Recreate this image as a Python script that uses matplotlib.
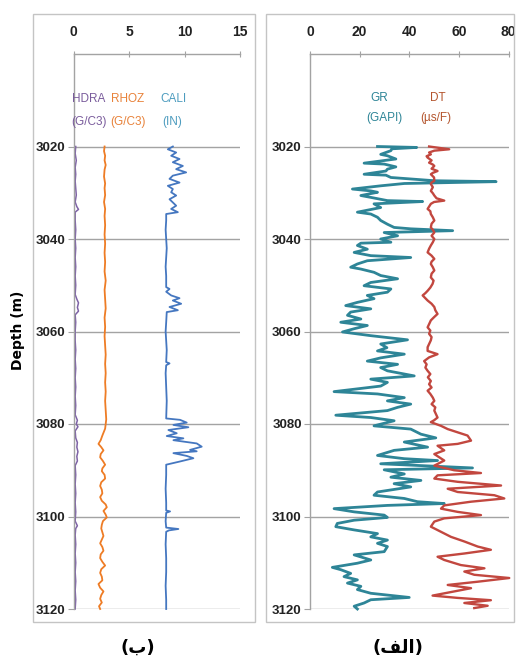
import matplotlib
matplotlib.use("Agg")
import matplotlib.pyplot as plt
from matplotlib.patches import Rectangle
from matplotlib import font_manager

avail = {f.name for f in font_manager.fontManager.ttflist}
NARROW = ['Liberation Sans Narrow', 'Liberation Sans', 'DejaVu Sans']
NARROW = [f for f in NARROW if f in avail] + ['DejaVu Sans']
plt.rcParams['font.family'] = NARROW

# ---------------- data ----------------
depth_ticks = [3020, 3040, 3060, 3080, 3100, 3120]
left_xticks = [0, 5, 10, 15]
right_xticks = [0, 20, 40, 60, 80]

hdra_depth = [3020, 3021.5, 3023, 3024.5, 3026, 3027.5, 3029, 3030.5, 3032, 3033, 3033.6, 3034.2,
              3036, 3038, 3040, 3042, 3044, 3046, 3048, 3050, 3052, 3053, 3053.8, 3054.8, 3055.6,
              3056.4, 3058, 3060, 3062, 3064, 3066, 3068, 3070, 3072, 3074, 3076, 3078, 3079.2,
              3080, 3080.6, 3081.5, 3083, 3084, 3085, 3086, 3087, 3088, 3089, 3091, 3093, 3095,
              3097, 3099, 3101, 3102, 3102.6, 3104, 3106, 3108, 3110, 3112, 3114, 3116, 3118, 3120]
hdra_val = [0.2, 0.15, 0.25, 0.15, 0.2, 0.15, 0.2, 0.25, 0.15, 0.3, 0.45, 0.15,
            0.15, 0.2, 0.15, 0.2, 0.15, 0.2, 0.15, 0.2, 0.15, 0.3, 0.45, 0.35, 0.45,
            0.15, 0.2, 0.15, 0.15, 0.2, 0.15, 0.2, 0.15, 0.2, 0.15, 0.2, 0.15, 0.35,
            0.25, 0.4, 0.15, 0.2, 0.35, 0.3, 0.4, 0.3, 0.35, 0.15, 0.2, 0.15, 0.2,
            0.15, 0.2, 0.15, 0.35, 0.2, 0.15, 0.2, 0.15, 0.2, 0.15, 0.2, 0.15, 0.2, 0.15]

rhoz_depth = [3020, 3021, 3022, 3023, 3024, 3025, 3026.5, 3028, 3029, 3030.5, 3032, 3033.5, 3035,
              3037, 3039, 3041, 3043, 3045, 3047, 3049, 3051, 3053, 3055, 3057, 3059, 3061, 3063,
              3065, 3067, 3069, 3071, 3073, 3075, 3077, 3079, 3081, 3082.5, 3083.5, 3084.3, 3085,
              3085.7, 3086.5, 3087.2, 3088, 3088.8, 3089.6, 3090.2, 3091, 3091.8, 3092.6, 3093.4,
              3094.2, 3095, 3095.8, 3096.6, 3097.4, 3098, 3098.8, 3099.6, 3100.2, 3101, 3101.8,
              3102.6, 3103.4, 3104.2, 3105, 3105.8, 3106.6, 3107.4, 3108.2, 3109, 3109.8, 3110.6,
              3111.4, 3112.2, 3113, 3113.8, 3114.6, 3115.4, 3116.2, 3117, 3117.8, 3118.6, 3119.4, 3120]
rhoz_val = [2.8, 2.75, 2.85, 2.8, 2.9, 2.8, 2.75, 2.85, 2.8, 2.85, 2.75, 2.85, 2.8,
            2.85, 2.8, 2.85, 2.8, 2.85, 2.8, 2.9, 2.8, 2.85, 2.9, 2.8, 2.85, 2.8, 2.85,
            2.9, 2.85, 2.9, 2.85, 2.9, 2.85, 2.9, 2.95, 2.85, 2.6, 2.45, 2.25, 2.5,
            2.7, 2.45, 2.4, 2.65, 2.85, 2.6, 2.55, 2.8, 2.85, 2.5, 2.4,
            2.55, 2.6, 2.4, 2.55, 2.9, 3.0, 2.7, 2.9, 3.0, 2.65, 2.55,
            2.5, 2.6, 2.7, 2.55, 2.4, 2.6, 2.7, 2.45, 2.4, 2.6, 2.85,
            2.5, 2.4, 2.55, 2.6, 2.25, 2.4, 2.7, 2.5, 2.4, 2.55, 2.3, 2.4]

cali_depth = [3020.0, 3020.6, 3021.3, 3022.0, 3022.7, 3023.4, 3024.2, 3024.9, 3025.6, 3026.3, 3027.0,
              3027.8, 3028.5, 3029.2, 3029.9, 3030.6, 3031.4, 3032.1, 3032.8, 3033.5, 3034.2, 3034.6,
              3036, 3038, 3040, 3042, 3044, 3046, 3048, 3050.4, 3050.8, 3051.4, 3052.2, 3052.8,
              3053.3, 3054.0, 3054.7, 3055.4, 3055.8, 3058, 3060, 3062, 3064, 3066.6, 3066.9,
              3067.3, 3069, 3072, 3075, 3078.8, 3079.1, 3079.7, 3080.2, 3080.7, 3081.3, 3082.0,
              3082.6, 3083.1, 3083.5, 3084.2, 3084.9, 3085.6, 3085.9, 3086.3, 3086.9, 3087.4,
              3088.1, 3088.8, 3091, 3094, 3097, 3098.7, 3098.9, 3099.2, 3101, 3102.4, 3102.7,
              3103.0, 3103.3, 3106, 3109, 3112, 3115, 3118, 3120]
cali_val = [8.95, 8.5, 9.25, 8.8, 9.55, 8.95, 9.85, 9.25, 10.15, 8.95, 8.65,
            9.55, 8.5, 8.95, 8.8, 9.25, 8.65, 8.95, 9.25, 8.8, 9.4, 8.35,
            8.35, 8.3, 8.35, 8.4, 8.35, 8.3, 8.35, 8.35, 8.65, 8.35, 8.8, 9.55,
            8.95, 9.7, 8.65, 9.4, 8.4, 8.35, 8.3, 8.35, 8.4, 8.35, 8.65,
            8.35, 8.3, 8.35, 8.4, 8.35, 9.6, 10.2, 9.0, 10.35, 8.55, 9.3,
            8.4, 9.9, 9.0, 11.1, 11.55, 10.5, 11.1, 9.0, 10.2, 10.8,
            9.6, 8.35, 8.35, 8.3, 8.35, 8.35, 8.7, 8.35, 8.3, 8.35, 9.45,
            8.6, 8.35, 8.3, 8.35, 8.35, 8.3, 8.35, 8.35]

gr_depth = [3020.0, 3020.2, 3020.5, 3020.9, 3021.7, 3022.0, 3022.7, 3023.6, 3023.8, 3024.4, 3024.9,
            3025.3, 3026.0, 3026.2, 3026.7, 3027.4, 3027.6, 3028.0, 3028.5, 3029.2, 3029.6, 3029.9,
            3030.6, 3031.0, 3031.7, 3031.9, 3032.4, 3033.2, 3034.2, 3034.6, 3035.3, 3036.0, 3036.8,
            3037.5, 3037.8, 3038.2, 3038.6, 3039.3, 3040.0, 3040.7, 3040.9, 3041.4, 3042.2, 3042.9,
            3043.6, 3044.0, 3044.7, 3045.4, 3046.1, 3046.5, 3047.2, 3047.9, 3048.6, 3049.4, 3050.1,
            3050.8, 3051.5, 3052.2, 3052.9, 3053.7, 3054.4, 3055.1, 3055.8, 3056.5, 3057.3, 3058.0,
            3058.7, 3059.4, 3060.1, 3060.9, 3061.8, 3062.7, 3063.5, 3064.2, 3064.9, 3065.7, 3066.4,
            3067.1, 3067.8, 3068.5, 3069.6, 3070.3, 3071.0, 3071.8, 3073.0, 3073.5, 3074.3, 3075.0,
            3075.7, 3076.4, 3077.1, 3078.1, 3078.6, 3079.3, 3080.4, 3081.1, 3082.2, 3083.0, 3083.9,
            3085.0, 3085.7, 3086.8, 3087.5, 3087.9, 3088.6, 3089.5, 3089.9, 3090.8, 3091.5, 3092.2,
            3092.9, 3093.6, 3094.7, 3095.4, 3096.1, 3096.8, 3097.2, 3097.6, 3098.3, 3099.0, 3099.7,
            3100.2, 3100.8, 3101.5, 3102.2, 3102.9, 3103.7, 3104.4, 3105.1, 3105.8, 3106.5, 3107.6,
            3108.3, 3109.4, 3110.1, 3111.0, 3111.5, 3112.3, 3113.0, 3113.7, 3114.4, 3115.1, 3115.8,
            3116.6, 3117.5, 3118.0, 3118.7, 3119.4, 3120.0]
gr_val = [27.2, 43.0, 33.0, 32.6, 28.5, 31.2, 34.6, 21.8, 29.9, 34.6, 31.2,
          30.6, 21.8, 30.6, 32.6, 50.1, 75.0, 38.0, 28.5, 17.1, 24.5, 27.2,
          20.5, 24.5, 31.2, 45.4, 25.8, 28.5, 19.1, 24.5, 27.2, 28.5, 31.2,
          33.9, 40.6, 57.5, 29.9, 35.3, 28.5, 32.6, 20.5, 19.1, 23.1, 17.8,
          24.5, 40.6, 23.1, 19.1, 16.4, 20.5, 25.8, 28.5, 35.3, 24.5, 21.8,
          32.6, 31.2, 23.1, 25.8, 19.1, 14.4, 24.5, 16.4, 15.1, 20.5, 12.4,
          23.1, 17.8, 13.1, 24.5, 39.3, 28.5, 31.0, 27.2, 38.0, 28.5, 23.1,
          35.3, 28.5, 31.2, 42.0, 24.5, 31.2, 28.5, 9.7, 27.2, 38.0, 31.2,
          40.6, 35.3, 31.2, 10.4, 24.5, 33.9, 25.8, 40.6, 44.7, 50.7, 38.0,
          47.4, 33.9, 27.2, 38.0, 51.4, 28.5, 65.5, 29.9, 38.0, 32.6, 44.7,
          33.9, 40.6, 27.2, 25.8, 38.0, 43.3, 54.1, 31.2, 9.7, 17.8, 29.9,
          31.2, 17.8, 11.0, 10.4, 17.8, 27.2, 24.5, 31.2, 27.2, 31.2, 29.9,
          17.8, 24.5, 19.1, 9.0, 12.4, 16.4, 13.7, 19.1, 15.1, 20.5, 19.1,
          24.5, 40.0, 24.5, 21.8, 17.8, 19.1]

dt_depth = [3020.0, 3020.3, 3020.6, 3020.9, 3021.3, 3021.7, 3022.1, 3022.4, 3023.0, 3023.5, 3023.9,
            3024.2, 3024.8, 3025.3, 3025.7, 3026.0, 3026.7, 3027.4, 3027.8, 3028.1, 3028.8, 3029.6,
            3030.1, 3030.6, 3031.2, 3031.7, 3032.0, 3032.4, 3033.0, 3033.5, 3034.0, 3034.6, 3035.3,
            3036.0, 3036.7, 3037.5, 3038.0, 3038.6, 3039.3, 3040.0, 3040.7, 3041.4, 3042.1, 3042.9,
            3043.6, 3044.3, 3044.9, 3045.4, 3046.1, 3046.8, 3047.5, 3048.3, 3049.0, 3049.7, 3050.5,
            3051.2, 3051.7, 3052.2, 3052.8, 3053.3, 3054.0, 3054.7, 3055.4, 3056.2, 3056.9, 3057.6,
            3058.4, 3059.1, 3059.8, 3060.5, 3061.2, 3061.9, 3062.7, 3063.4, 3064.2, 3064.9, 3065.6,
            3066.4, 3067.1, 3067.8, 3068.5, 3069.2, 3069.9, 3070.7, 3071.4, 3072.1, 3072.8, 3073.5,
            3074.3, 3075.0, 3075.7, 3076.4, 3077.1, 3077.9, 3078.6, 3079.2, 3079.6, 3080.4, 3081.1,
            3081.8, 3082.5, 3083.6, 3084.3, 3084.7, 3085.7, 3086.5, 3087.9, 3089.0, 3090.0, 3090.6,
            3091.1, 3091.8, 3092.5, 3093.3, 3094.0, 3094.7, 3095.4, 3096.1, 3096.8, 3097.6, 3098.3,
            3099.0, 3099.7, 3100.4, 3101.1, 3102.2, 3103.3, 3104.4, 3105.4, 3106.5, 3107.2, 3108.0,
            3108.7, 3109.4, 3110.5, 3111.2, 3111.9, 3112.6, 3113.3, 3114.1, 3114.8, 3115.5, 3116.2,
            3117.1, 3117.6, 3118.1, 3118.7, 3119.3, 3119.8]
dt_val = [48.0, 52.0, 56.1, 50.1, 48.0, 48.7, 47.0, 47.4, 49.0, 48.0, 49.5,
          50.1, 49.0, 51.4, 49.5, 48.7, 50.0, 50.1, 49.0, 48.7, 49.5, 48.7,
          49.5, 50.1, 51.0, 54.1, 50.0, 48.7, 48.0, 47.4, 48.5, 48.7, 49.5,
          50.1, 49.0, 48.7, 49.5, 50.1, 49.0, 50.1, 49.5, 48.7, 48.0, 47.4,
          49.0, 50.1, 49.0, 48.7, 49.5, 50.1, 49.0, 48.7, 49.8, 49.4, 48.5,
          47.4, 46.5, 45.4, 46.5, 47.4, 49.0, 50.1, 50.5, 51.4, 50.0, 48.7,
          48.0, 47.4, 48.5, 48.0, 49.0, 48.7, 48.0, 47.4, 47.4, 51.4, 48.0,
          46.0, 47.0, 46.5, 47.4, 48.5, 47.5, 48.7, 48.0, 49.0, 47.4, 48.5,
          49.5, 50.1, 49.0, 50.5, 50.1, 50.8, 51.4, 50.0, 48.7, 52.8, 55.5,
          59.5, 63.5, 64.9, 59.5, 51.4, 54.1, 50.1, 54.1, 50.1, 58.1, 68.9,
          51.4, 50.1, 59.5, 77.0, 55.5, 59.5, 74.3, 78.3, 64.9, 54.1, 52.8,
          59.5, 68.9, 54.1, 50.1, 48.7, 52.8, 56.8, 62.2, 67.6, 72.9, 62.2,
          51.4, 54.1, 60.8, 70.3, 62.2, 66.2, 80.3, 67.6, 55.5, 64.9, 58.1,
          49.4, 59.5, 72.9, 62.2, 71.6, 66.2]

# ---------------- figure ----------------
W, H = 516, 660
fig = plt.figure(figsize=(W / 100, H / 100), dpi=100)
fig.patch.set_facecolor('white')

# panel frames
for (x0, x1) in [(33, 255), (266, 514)]:
    fig.patches.append(Rectangle((x0 / W, 1 - 622 / H), (x1 - x0) / W, (622 - 14) / H,
                                 transform=fig.transFigure, fill=False,
                                 edgecolor='#c4c4c4', linewidth=1.0))

ax_b = 1 - 609 / H
ax_h = (609 - 54) / H
axL = fig.add_axes([73.5 / W, ax_b, (240 - 73.5) / W, ax_h])
axR = fig.add_axes([310 / W, ax_b, (508.5 - 310) / W, ax_h])

grid_c = '#a3a3a3'
for ax, xmax, xt in [(axL, 15, left_xticks), (axR, 80, right_xticks)]:
    ax.set_xlim(0, xmax)
    ax.set_ylim(3120, 3000)
    ax.xaxis.tick_top()
    ax.set_xticks(xt)
    ax.set_yticks(depth_ticks)
    for s in ['right', 'bottom']:
        ax.spines[s].set_visible(False)
    for s in ['top', 'left']:
        ax.spines[s].set_color(grid_c)
        ax.spines[s].set_linewidth(1.0)
    ax.yaxis.grid(True, color=grid_c, linewidth=1.0)
    ax.set_axisbelow(True)
    ax.tick_params(axis='x', top=True, direction='inout', length=5, color=grid_c,
                   pad=8, labelsize=10, labelcolor='#222222')
    ax.tick_params(axis='y', direction='out', length=4, color=grid_c,
                   labelsize=9.5, labelcolor='#222222', pad=2)
    for lab in ax.get_xticklabels() + ax.get_yticklabels():
        lab.set_fontweight('bold')
    ax.patch.set_alpha(0)

# left panel curves
axL.plot(hdra_val, hdra_depth, color='#7e63a6', lw=1.1, clip_on=False)
axL.plot(rhoz_val, rhoz_depth, color='#ee7c25', lw=1.3, clip_on=False)
axL.plot(cali_val, cali_depth, color='#4577c0', lw=1.3, clip_on=False)

# right panel curves
axR.plot(gr_val, gr_depth, color='#2e8597', lw=2.0, clip_on=False)
axR.plot(dt_val, dt_depth, color='#c2473f', lw=1.7, clip_on=False)

# curve labels
lab_kw = dict(ha='center', va='center', fontsize=8.5)
axL.text(1.4, 3009.7, 'HDRA', color='#7a5c9c', **lab_kw)
axL.text(1.4, 3014.6, '(G/C3)', color='#7a5c9c', **lab_kw)
axL.text(4.9, 3009.7, 'RHOZ', color='#e8823a', **lab_kw)
axL.text(4.9, 3014.6, '(G/C3)', color='#e8823a', **lab_kw)
axL.text(9.0, 3009.7, 'CALI', color='#4d9cbf', **lab_kw)
axL.text(8.9, 3014.6, '(IN)', color='#4d9cbf', **lab_kw)

axR.text(28.1, 3009.5, 'GR', color='#2e8597', **lab_kw)
axR.text(30.1, 3013.9, '(GAPI)', color='#2e8597', **lab_kw)
axR.text(51.6, 3009.5, 'DT', color='#b4552e', **lab_kw)
axR.text(50.8, 3013.9, '(\u00b5s/F)', color='#b4552e', **lab_kw)

fig.text(18 / W, 1 - 330 / H, 'Depth (m)', rotation=90, ha='center', va='center',
         fontsize=10, fontweight='bold', family=['DejaVu Sans'])

# captions (Arabic in presentation forms, visual order)
fig.text(138 / W, 1 - 648 / H, '(\ufe8f)', ha='center', va='center', fontsize=13,
         fontweight='bold', family=['DejaVu Sans'])
fig.text(398 / W, 1 - 648 / H, '(\ufed2\ufedf\ufe8d)', ha='center', va='center', fontsize=13,
         fontweight='bold', family=['DejaVu Sans'])

fig.savefig('out.png', dpi=100)
